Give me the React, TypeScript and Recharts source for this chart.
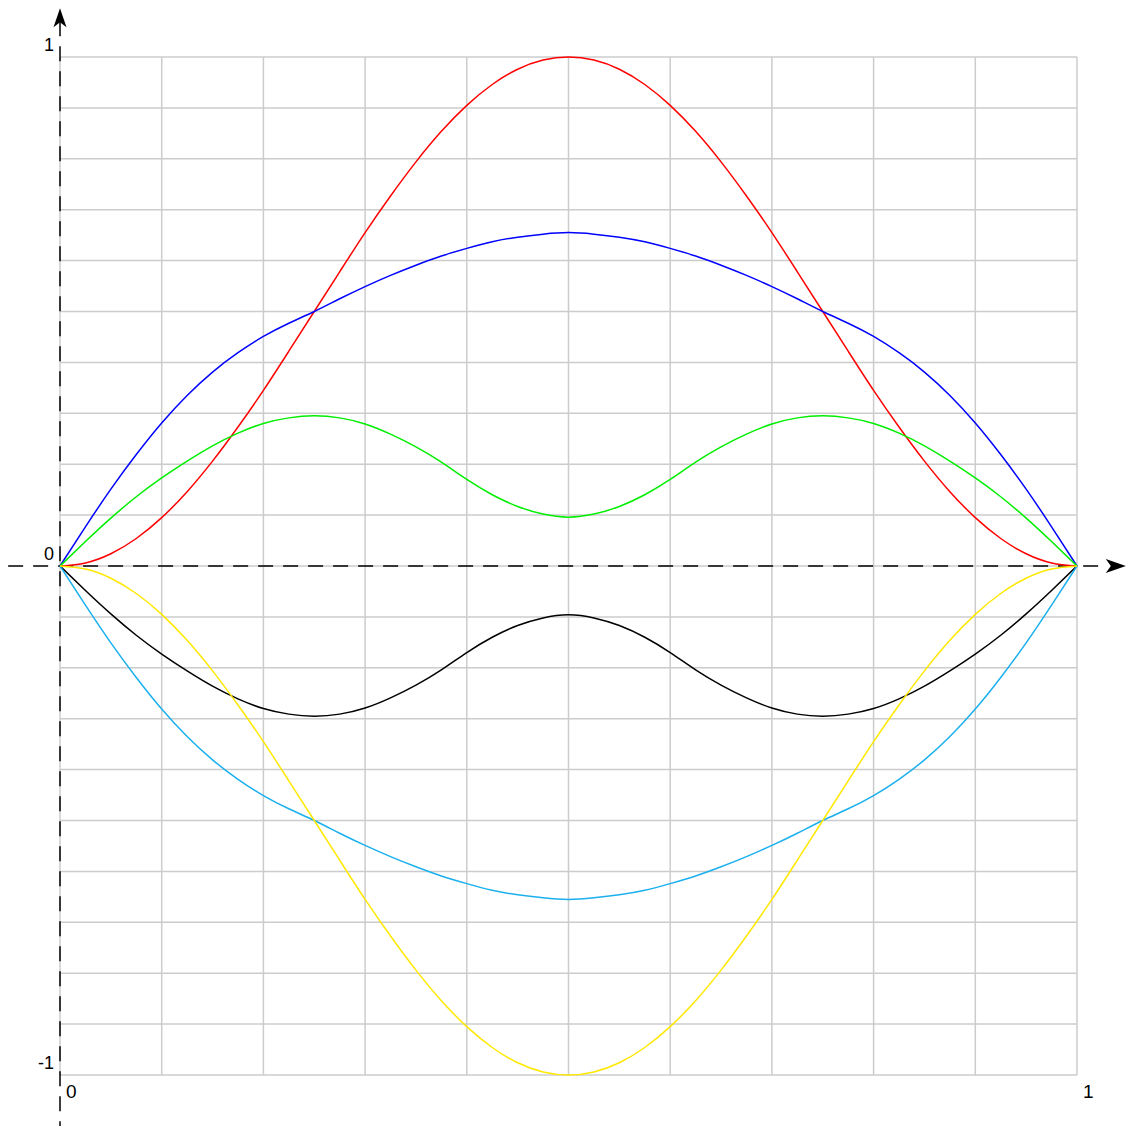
import { CartesianGrid, Line, LineChart, ReferenceDot, ReferenceLine, XAxis, YAxis } from "recharts";

// sample positions along [0, 1]
const xs = [
  0, 0.025, 0.05, 0.075, 0.1, 0.125, 0.15, 0.175, 0.2, 0.225, 0.25, 0.275, 0.3, 0.325,
  0.35, 0.375, 0.4, 0.425, 0.45, 0.475, 0.5, 0.525, 0.55, 0.575, 0.6, 0.625, 0.65, 0.675,
  0.7, 0.725, 0.75, 0.775, 0.8, 0.825, 0.85, 0.875, 0.9, 0.925, 0.95, 0.975, 1,
];

const red = [
  0, 0.006, 0.024, 0.054, 0.095, 0.146, 0.206, 0.273, 0.345, 0.422, 0.5, 0.578, 0.655, 0.727,
  0.794, 0.854, 0.905, 0.946, 0.976, 0.994, 1, 0.994, 0.976, 0.946, 0.905, 0.854, 0.794, 0.727,
  0.655, 0.578, 0.5, 0.422, 0.345, 0.273, 0.206, 0.146, 0.095, 0.054, 0.024, 0.006, 0,
];

const blue = [
  0, 0.077, 0.151, 0.219, 0.281, 0.335, 0.381, 0.419, 0.451, 0.477, 0.5, 0.525, 0.549, 0.571,
  0.591, 0.609, 0.624, 0.637, 0.646, 0.652, 0.655, 0.652, 0.646, 0.637, 0.624, 0.609, 0.591, 0.571,
  0.549, 0.525, 0.5, 0.477, 0.451, 0.419, 0.381, 0.335, 0.281, 0.219, 0.151, 0.077, 0,
];

const green = [
  0, 0.048, 0.094, 0.136, 0.173, 0.206, 0.236, 0.261, 0.28, 0.291, 0.295, 0.291, 0.279, 0.259,
  0.234, 0.204, 0.17, 0.14, 0.117, 0.102, 0.096, 0.102, 0.117, 0.14, 0.17, 0.204, 0.234, 0.259,
  0.279, 0.291, 0.295, 0.291, 0.28, 0.261, 0.236, 0.206, 0.173, 0.136, 0.094, 0.048, 0,
];

const black = [
  0, -0.048, -0.094, -0.136, -0.173, -0.206, -0.236, -0.261, -0.28, -0.291, -0.295, -0.291, -0.279, -0.259,
  -0.234, -0.204, -0.17, -0.14, -0.117, -0.102, -0.096, -0.102, -0.117, -0.14, -0.17, -0.204, -0.234, -0.259,
  -0.279, -0.291, -0.295, -0.291, -0.28, -0.261, -0.236, -0.206, -0.173, -0.136, -0.094, -0.048, 0,
];

const cyan = [
  0, -0.077, -0.151, -0.219, -0.281, -0.335, -0.381, -0.419, -0.451, -0.477, -0.5, -0.525, -0.549, -0.571,
  -0.591, -0.609, -0.624, -0.637, -0.646, -0.652, -0.655, -0.652, -0.646, -0.637, -0.624, -0.609, -0.591, -0.571,
  -0.549, -0.525, -0.5, -0.477, -0.451, -0.419, -0.381, -0.335, -0.281, -0.219, -0.151, -0.077, 0,
];

const yellow = [
  0, -0.006, -0.024, -0.054, -0.095, -0.146, -0.206, -0.273, -0.345, -0.422, -0.5, -0.578, -0.655, -0.727,
  -0.794, -0.854, -0.905, -0.946, -0.976, -0.994, -1, -0.994, -0.976, -0.946, -0.905, -0.854, -0.794, -0.727,
  -0.655, -0.578, -0.5, -0.422, -0.345, -0.273, -0.206, -0.146, -0.095, -0.054, -0.024, -0.006, 0,
];

const xTicks = [0, 0.1, 0.2, 0.3, 0.4, 0.5, 0.6, 0.7, 0.8, 0.9, 1];
const yTicks = [
  -1, -0.9, -0.8, -0.7, -0.6, -0.5, -0.4, -0.3, -0.2, -0.1, 0,
  0.1, 0.2, 0.3, 0.4, 0.5, 0.6, 0.7, 0.8, 0.9, 1,
];
const xLabels = [0, 1];
const yLabels = [-1, 0, 1];

const series = [
  { key: "red", color: "#ff0000" },
  { key: "blue", color: "#0000ff" },
  { key: "green", color: "#00ee00" },
  { key: "black", color: "#000000" },
  { key: "cyan", color: "#1ab0ee" },
  { key: "yellow", color: "#ffe800" },
];

const data = xs.map((x, i) => ({
  x,
  red: red[i],
  blue: blue[i],
  green: green[i],
  black: black[i],
  cyan: cyan[i],
  yellow: yellow[i],
}));

const FONT = "'Liberation Sans', Arial, sans-serif";

function XTick(props: any) {
  const { x, y, payload } = props;
  if (!xLabels.includes(payload.value)) return null;
  return (
    <text x={x + 6} y={y + 15} fontSize={19} fontFamily={FONT} fill="#000" textAnchor="start">
      {payload.value}
    </text>
  );
}

function YTick(props: any) {
  const { x, y, payload } = props;
  if (!yLabels.includes(payload.value)) return null;
  return (
    <text x={x + 2} y={y - 6} fontSize={18} fontFamily={FONT} fill="#000" textAnchor="end">
      {payload.value}
    </text>
  );
}

function UpArrow(props: any) {
  const { cx, cy } = props;
  return <path d={`M${cx},${cy} L${cx + 6.5},${cy + 19} L${cx},${cy + 14} L${cx - 6.5},${cy + 19} Z`} fill="#000" />;
}

function RightArrow(props: any) {
  const { cx, cy } = props;
  return <path d={`M${cx},${cy} L${cx - 20},${cy - 7} L${cx - 15},${cy} L${cx - 20},${cy + 7} Z`} fill="#000" />;
}

export default function App() {
  return (
    <div style={{ position: "absolute", left: 0, top: 0, background: "#fff" }}>
      <LineChart width={1126} height={1126} data={data} margin={{ top: 57, right: 49, bottom: 50, left: 59 }}>
        <CartesianGrid stroke="#cccccc" strokeWidth={1.5} />
        <XAxis
          type="number"
          dataKey="x"
          domain={[0, 1]}
          ticks={xTicks}
          height={1}
          axisLine={false}
          tickLine={false}
          tick={<XTick />}
        />
        <YAxis
          type="number"
          domain={[-1, 1]}
          ticks={yTicks}
          width={1}
          axisLine={false}
          tickLine={false}
          tick={<YTick />}
        />
        {/* dashed coordinate axes running past the plot box */}
        <ReferenceLine
          segment={[{ x: 0, y: 1.07 }, { x: 0, y: -1.1 }]}
          stroke="#000"
          strokeWidth={1.5}
          strokeDasharray="15 10"
          ifOverflow="visible"
        />
        <ReferenceLine
          segment={[{ x: -0.051, y: 0 }, { x: 1.03, y: 0 }]}
          stroke="#000"
          strokeWidth={1.5}
          strokeDasharray="15 10"
          ifOverflow="visible"
        />
        {series.map((s) => (
          <Line
            key={s.key}
            type="natural"
            dataKey={s.key}
            stroke={s.color}
            strokeWidth={1.5}
            dot={false}
            activeDot={false}
            isAnimationActive={false}
          />
        ))}
        <ReferenceDot x={0} y={1.096} r={0} ifOverflow="visible" shape={<UpArrow />} />
        <ReferenceDot x={1.048} y={0} r={0} ifOverflow="visible" shape={<RightArrow />} />
      </LineChart>
    </div>
  );
}
